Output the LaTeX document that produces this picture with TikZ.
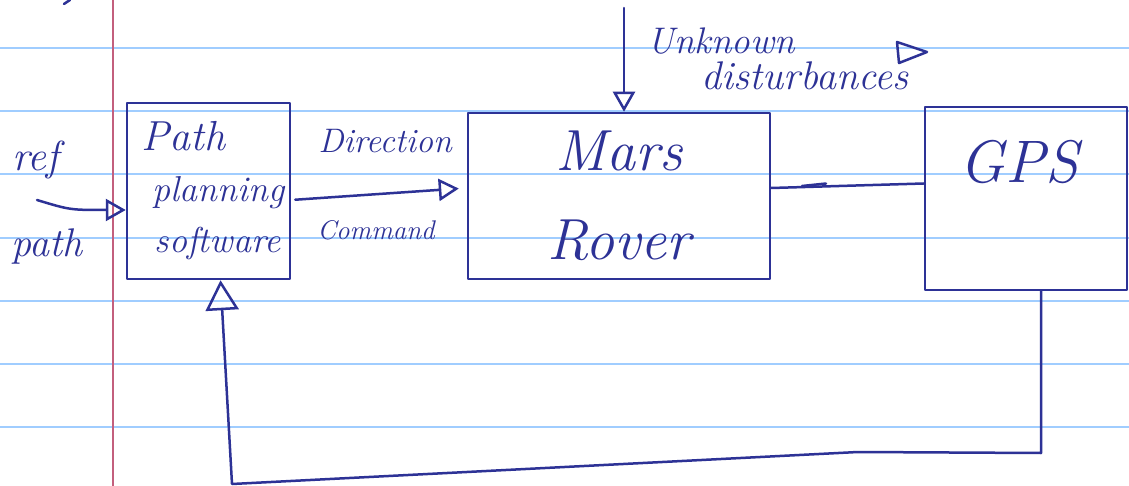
\documentclass[tikz,border=0pt]{standalone}
\usetikzlibrary{arrows.meta,calc}
\definecolor{ink}{RGB}{45,50,150}
\definecolor{paperrule}{RGB}{160,205,255}
\definecolor{marginred}{RGB}{195,95,125}

\begin{document}
\begin{tikzpicture}[x=1pt,y=-1pt,
  inkline/.style={draw=ink,line width=2.5pt,line cap=round,line join=round},
  block/.style={inkline,rectangle,inner sep=0pt,text=ink,align=center},
  lbl/.style={text=ink,inner sep=0pt},
  flow/.style={inkline,-{Triangle[open,length=20pt,width=22pt]}},
  hand/.style={font=\itshape\fontsize{#1}{#1}\selectfont},
]
\useasboundingbox (0,0) rectangle (1129,486);
\fill[white] (0,0) rectangle (1129,486);

% ruled notebook paper
\foreach \y in {48,111,174,238,301,364,427}
  \draw[paperrule,line width=2pt] (0,\y) -- (1129,\y);
\draw[marginred,line width=1.5pt] (113,0) -- (113,486);

% small pen mark at the top edge
\draw[inkline] (64,4) -- (70,0);

% blocks
\node[block,minimum width=163pt,minimum height=176pt,
      font=\itshape\fontsize{36}{51}\selectfont] (pp) at (208.5,191)
  {{\fontsize{42}{51}\selectfont Path}\hspace*{50pt}\\\hspace*{20pt}planning\\\hspace*{18pt}software};
\node[block,minimum width=302pt,minimum height=166pt,
      font=\itshape\fontsize{58}{89}\selectfont] (mars) at (619,196)
  {Mars\\Rover};
\node[block,minimum width=202pt,minimum height=183pt] (gps) at (1026,198.5) {};
\node[lbl,hand=60] (gpstext) at ($(gps.center)+(-7,-36)$) {GPS};

% labels
\node[lbl,hand=42] (reflbl) at (36,160) {ref};
\node[lbl,hand=40] (pathlbl) at (47,247) {path};
\node[lbl,hand=34] (dirlbl) at (385,141) {Direction};
\node[lbl,hand=27] (cmdlbl) at (376,230) {Command};
\node[lbl,hand=37] (unklbl) at (721,41) {Unknown};
\node[lbl,hand=40] (dstlbl) at (805,76) {disturbances};

% reference path input
\coordinate (refstart) at (37,200);
\draw[flow] (refstart) .. controls (70,210) .. ([yshift=-19pt]pp.west);

% direction command
\draw[flow,shorten <=4pt,shorten >=8pt] ([yshift=-9pt]pp.east) -- ([yshift=8pt]mars.west);

% unknown disturbances
\coordinate (dist) at (624,8);
\draw[flow] (dist) -- (dist |- mars.north);

% loose arrowhead beside the disturbance label
\draw[inkline] (897,42) -- (927,52) -- (899,63) -- cycle;

% rover to GPS
\draw[inkline] ([yshift=8pt]mars.east) -- ([yshift=15pt]gps.west);
\draw[inkline] (802,186) -- (826,183.5);

% feedback from GPS to path planning
\coordinate (fb1) at (1041,453);
\coordinate (fbm) at (858,452);
\coordinate (fb2) at (232,484);
\draw[inkline,-{Triangle[open,length=30pt,width=33pt]}]
  (gps.south -| fb1) -- (fb1) -- (fbm) -- (fb2) -- ([xshift=12pt]pp.south);
\end{tikzpicture}
\end{document}
